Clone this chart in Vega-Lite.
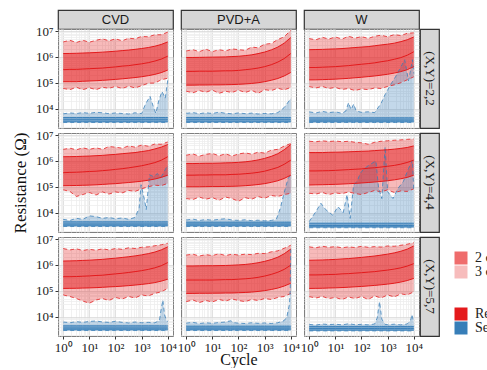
{
"$schema": "https://vega.github.io/schema/vega-lite/v6.json",
"background": "white",
"padding": {"left": 10, "top": 9, "right": 0, "bottom": 0},
"columns": 6,
"spacing": {"row": 0, "column": 1},
"bounds": "flush",
"align": "each",
"datasets": {"d": [
{"p":1,"s":"Reset","x":1,"d":6e4,"a":1.1e5,"m":3.2e5,"b":1.35e6,"e":3.8e6},
{"p":1,"s":"Reset","x":1.8,"d":5.4e4,"a":1.1e5,"m":3.3e5,"b":1.36e6,"e":4.4e6},
{"p":1,"s":"Reset","x":3.2,"d":6.7e4,"a":1.1e5,"m":3.3e5,"b":1.38e6,"e":3.6e6},
{"p":1,"s":"Reset","x":5.6,"d":5.4e4,"a":1.14e5,"m":3.4e5,"b":1.41e6,"e":4.4e6},
{"p":1,"s":"Reset","x":10,"d":6.4e4,"a":1.17e5,"m":3.5e5,"b":1.44e6,"e":3.7e6},
{"p":1,"s":"Reset","x":18,"d":5.4e4,"a":1.2e5,"m":3.6e5,"b":1.48e6,"e":4.4e6},
{"p":1,"s":"Reset","x":32,"d":6.7e4,"a":1.24e5,"m":3.7e5,"b":1.53e6,"e":5e6},
{"p":1,"s":"Reset","x":56,"d":6.1e4,"a":1.29e5,"m":3.9e5,"b":1.59e6,"e":4.2e6},
{"p":1,"s":"Reset","x":100,"d":7.2e4,"a":1.35e5,"m":4.1e5,"b":1.66e6,"e":5e6},
{"p":1,"s":"Reset","x":180,"d":6e4,"a":1.42e5,"m":4.4e5,"b":1.75e6,"e":4.2e6},
{"p":1,"s":"Reset","x":320,"d":7.4e4,"a":1.5e5,"m":4.6e5,"b":1.84e6,"e":5.3e6},
{"p":1,"s":"Reset","x":560,"d":6.3e4,"a":1.59e5,"m":5e5,"b":1.96e6,"e":5e6},
{"p":1,"s":"Reset","x":1000,"d":7.7e4,"a":1.71e5,"m":5.4e5,"b":2.11e6,"e":6.2e6},
{"p":1,"s":"Reset","x":1800,"d":9.6e4,"a":1.88e5,"m":6e5,"b":2.31e6,"e":6e6},
{"p":1,"s":"Reset","x":3200,"d":9.7e4,"a":2.11e5,"m":6.9e5,"b":2.59e6,"e":7.2e6},
{"p":1,"s":"Reset","x":5600,"d":1.3e5,"a":2.46e5,"m":8.2e5,"b":3.03e6,"e":7.2e6},
{"p":1,"s":"Reset","x":10000,"d":1.5e5,"a":3.09e5,"m":1.07e6,"b":3.8e6,"e":9.1e6},
{"p":1,"s":"Set","x":1,"d":2900,"a":3100,"m":3700,"b":4500,"e":6300},
{"p":1,"s":"Set","x":1.8,"d":2900,"a":3100,"m":3700,"b":4500,"e":6800},
{"p":1,"s":"Set","x":3.2,"d":2900,"a":3100,"m":3700,"b":4500,"e":6500},
{"p":1,"s":"Set","x":5.6,"d":2900,"a":3100,"m":3700,"b":4500,"e":7000},
{"p":1,"s":"Set","x":10,"d":2900,"a":3100,"m":3700,"b":4500,"e":6600},
{"p":1,"s":"Set","x":18,"d":2900,"a":3100,"m":3700,"b":4500,"e":7200},
{"p":1,"s":"Set","x":32,"d":2900,"a":3100,"m":3700,"b":4500,"e":6900},
{"p":1,"s":"Set","x":56,"d":2900,"a":3100,"m":3700,"b":4500,"e":6400},
{"p":1,"s":"Set","x":100,"d":2900,"a":3100,"m":3700,"b":4500,"e":6800},
{"p":1,"s":"Set","x":180,"d":2900,"a":3100,"m":3700,"b":4500,"e":6500},
{"p":1,"s":"Set","x":320,"d":2900,"a":3100,"m":3700,"b":4500,"e":6200},
{"p":1,"s":"Set","x":560,"d":2900,"a":3100,"m":3700,"b":4500,"e":6900},
{"p":1,"s":"Set","x":1000,"d":2900,"a":3100,"m":3700,"b":4500,"e":6400},
{"p":1,"s":"Set","x":1400,"d":2900,"a":3100,"m":3700,"b":4500,"e":1.5e4},
{"p":1,"s":"Set","x":2100,"d":2900,"a":3100,"m":3700,"b":4500,"e":3e4},
{"p":1,"s":"Set","x":2800,"d":2900,"a":3100,"m":3700,"b":4500,"e":1.2e4},
{"p":1,"s":"Set","x":3500,"d":2900,"a":3100,"m":3700,"b":4500,"e":6500},
{"p":1,"s":"Set","x":4500,"d":2900,"a":3100,"m":3700,"b":4500,"e":2e4},
{"p":1,"s":"Set","x":6000,"d":2900,"a":3100,"m":3700,"b":4500,"e":4.6e4},
{"p":1,"s":"Set","x":8000,"d":2900,"a":3100,"m":3700,"b":4500,"e":2.5e4},
{"p":1,"s":"Set","x":10000,"d":2900,"a":3100,"m":3700,"b":4500,"e":1.3e5},
{"p":2,"s":"Reset","x":1,"d":4.7e4,"a":8.1e4,"m":2.75e5,"b":9.5e5,"e":1.7e6},
{"p":2,"s":"Reset","x":1.8,"d":4.1e4,"a":8.1e4,"m":2.75e5,"b":9.5e5,"e":1.9e6},
{"p":2,"s":"Reset","x":3.2,"d":5e4,"a":8.2e4,"m":2.8e5,"b":9.6e5,"e":1.6e6},
{"p":2,"s":"Reset","x":5.6,"d":4.3e4,"a":8.2e4,"m":2.8e5,"b":9.7e5,"e":2e6},
{"p":2,"s":"Reset","x":10,"d":5.2e4,"a":8.3e4,"m":2.8e5,"b":9.8e5,"e":1.6e6},
{"p":2,"s":"Reset","x":18,"d":3.9e4,"a":8.3e4,"m":2.85e5,"b":9.9e5,"e":1.9e6},
{"p":2,"s":"Reset","x":32,"d":4.7e4,"a":8.4e4,"m":2.9e5,"b":1e6,"e":1.7e6},
{"p":2,"s":"Reset","x":56,"d":4.2e4,"a":8.5e4,"m":2.9e5,"b":1.03e6,"e":2.05e6},
{"p":2,"s":"Reset","x":100,"d":5.2e4,"a":8.7e4,"m":3e5,"b":1.06e6,"e":1.9e6},
{"p":2,"s":"Reset","x":180,"d":4.2e4,"a":9e4,"m":3.2e5,"b":1.12e6,"e":1.8e6},
{"p":2,"s":"Reset","x":320,"d":5.1e4,"a":9.4e4,"m":3.4e5,"b":1.2e6,"e":2.4e6},
{"p":2,"s":"Reset","x":560,"d":3.9e4,"a":1e5,"m":3.7e5,"b":1.34e6,"e":2.25e6},
{"p":2,"s":"Reset","x":1000,"d":5.4e4,"a":1.1e5,"m":4.2e5,"b":1.54e6,"e":3.1e6},
{"p":2,"s":"Reset","x":1800,"d":5e4,"a":1.25e5,"m":5e5,"b":1.87e6,"e":3.3e6},
{"p":2,"s":"Reset","x":3200,"d":6.1e4,"a":1.46e5,"m":6.3e5,"b":2.4e6,"e":4.7e6},
{"p":2,"s":"Reset","x":5600,"d":5.3e4,"a":1.83e5,"m":8.6e5,"b":3.4e6,"e":6e6},
{"p":2,"s":"Reset","x":10000,"d":6.6e4,"a":2.5e5,"m":1.35e6,"b":5.6e6,"e":1.07e7},
{"p":2,"s":"Set","x":1,"d":2900,"a":3100,"m":3700,"b":4500,"e":6600},
{"p":2,"s":"Set","x":1.8,"d":2900,"a":3100,"m":3700,"b":4500,"e":7000},
{"p":2,"s":"Set","x":3.2,"d":2900,"a":3100,"m":3700,"b":4500,"e":6400},
{"p":2,"s":"Set","x":5.6,"d":2900,"a":3100,"m":3700,"b":4500,"e":6900},
{"p":2,"s":"Set","x":10,"d":2900,"a":3100,"m":3700,"b":4500,"e":6500},
{"p":2,"s":"Set","x":18,"d":2900,"a":3100,"m":3700,"b":4500,"e":7300},
{"p":2,"s":"Set","x":32,"d":2900,"a":3100,"m":3700,"b":4500,"e":6600},
{"p":2,"s":"Set","x":56,"d":2900,"a":3100,"m":3700,"b":4500,"e":6300},
{"p":2,"s":"Set","x":100,"d":2900,"a":3100,"m":3700,"b":4500,"e":6800},
{"p":2,"s":"Set","x":180,"d":2900,"a":3100,"m":3700,"b":4500,"e":6400},
{"p":2,"s":"Set","x":320,"d":2900,"a":3100,"m":3700,"b":4500,"e":6700},
{"p":2,"s":"Set","x":560,"d":2900,"a":3100,"m":3700,"b":4500,"e":6200},
{"p":2,"s":"Set","x":1000,"d":2900,"a":3100,"m":3700,"b":4500,"e":6500},
{"p":2,"s":"Set","x":1800,"d":2900,"a":3100,"m":3700,"b":4500,"e":6300},
{"p":2,"s":"Set","x":3200,"d":2900,"a":3100,"m":3700,"b":4500,"e":7000},
{"p":2,"s":"Set","x":5600,"d":2900,"a":3100,"m":3700,"b":4500,"e":1.1e4},
{"p":2,"s":"Set","x":8000,"d":2900,"a":3100,"m":3700,"b":4500,"e":1.8e4},
{"p":2,"s":"Set","x":10000,"d":2900,"a":3100,"m":3700,"b":4500,"e":2.5e4},
{"p":3,"s":"Reset","x":1,"d":7.1e4,"a":1.29e5,"m":3.9e5,"b":1.9e6,"e":5.1e6},
{"p":3,"s":"Reset","x":1.8,"d":6.3e4,"a":1.3e5,"m":3.9e5,"b":1.93e6,"e":4.6e6},
{"p":3,"s":"Reset","x":3.2,"d":7.2e4,"a":1.32e5,"m":4e5,"b":1.95e6,"e":5.7e6},
{"p":3,"s":"Reset","x":5.6,"d":6e4,"a":1.35e5,"m":4.1e5,"b":2e6,"e":4.9e6},
{"p":3,"s":"Reset","x":10,"d":6.6e4,"a":1.38e5,"m":4.2e5,"b":2.04e6,"e":5.9e6},
{"p":3,"s":"Reset","x":18,"d":5.5e4,"a":1.43e5,"m":4.4e5,"b":2.1e6,"e":4.9e6},
{"p":3,"s":"Reset","x":32,"d":6e4,"a":1.48e5,"m":4.6e5,"b":2.2e6,"e":6.3e6},
{"p":3,"s":"Reset","x":56,"d":5e4,"a":1.56e5,"m":4.9e5,"b":2.3e6,"e":5.3e6},
{"p":3,"s":"Reset","x":100,"d":5.8e4,"a":1.63e5,"m":5.2e5,"b":2.4e6,"e":6.1e6},
{"p":3,"s":"Reset","x":180,"d":5.4e4,"a":1.73e5,"m":5.5e5,"b":2.5e6,"e":5.2e6},
{"p":3,"s":"Reset","x":320,"d":6.3e4,"a":1.83e5,"m":5.9e5,"b":2.7e6,"e":6.3e6},
{"p":3,"s":"Reset","x":560,"d":6e4,"a":1.97e5,"m":6.5e5,"b":2.9e6,"e":6.9e6},
{"p":3,"s":"Reset","x":1000,"d":7.2e4,"a":2.13e5,"m":7.1e5,"b":3.1e6,"e":6e6},
{"p":3,"s":"Reset","x":1800,"d":8.3e4,"a":2.37e5,"m":8.1e5,"b":3.4e6,"e":7.3e6},
{"p":3,"s":"Reset","x":3200,"d":1e5,"a":2.7e5,"m":9.4e5,"b":3.9e6,"e":6.7e6},
{"p":3,"s":"Reset","x":5600,"d":1.3e5,"a":3.2e5,"m":1.16e6,"b":4.6e6,"e":8.2e6},
{"p":3,"s":"Reset","x":10000,"d":1.7e5,"a":4.2e5,"m":1.58e6,"b":5.9e6,"e":8.5e6},
{"p":3,"s":"Set","x":1,"d":2900,"a":3100,"m":3600,"b":4400,"e":7500},
{"p":3,"s":"Set","x":1.8,"d":2900,"a":3100,"m":3600,"b":4400,"e":6800},
{"p":3,"s":"Set","x":3.2,"d":2900,"a":3100,"m":3600,"b":4400,"e":7800},
{"p":3,"s":"Set","x":5.6,"d":2900,"a":3100,"m":3600,"b":4400,"e":7000},
{"p":3,"s":"Set","x":10,"d":2900,"a":3100,"m":3600,"b":4400,"e":7500},
{"p":3,"s":"Set","x":18,"d":2900,"a":3100,"m":3600,"b":4400,"e":6600},
{"p":3,"s":"Set","x":25,"d":2900,"a":3100,"m":3600,"b":4400,"e":8000},
{"p":3,"s":"Set","x":32,"d":2900,"a":3100,"m":3600,"b":4400,"e":1.7e4},
{"p":3,"s":"Set","x":40,"d":2900,"a":3100,"m":3600,"b":4400,"e":9000},
{"p":3,"s":"Set","x":50,"d":2900,"a":3100,"m":3600,"b":4400,"e":1.5e4},
{"p":3,"s":"Set","x":63,"d":2900,"a":3100,"m":3600,"b":4400,"e":8000},
{"p":3,"s":"Set","x":100,"d":2900,"a":3100,"m":3600,"b":4400,"e":7200},
{"p":3,"s":"Set","x":180,"d":2900,"a":3100,"m":3600,"b":4400,"e":7500},
{"p":3,"s":"Set","x":320,"d":2900,"a":3100,"m":3600,"b":4400,"e":7000},
{"p":3,"s":"Set","x":560,"d":2900,"a":3100,"m":3600,"b":4400,"e":1.6e4},
{"p":3,"s":"Set","x":800,"d":2900,"a":3100,"m":3600,"b":4400,"e":3.5e4},
{"p":3,"s":"Set","x":1300,"d":2900,"a":3100,"m":3600,"b":4400,"e":8.5e4},
{"p":3,"s":"Set","x":2000,"d":2900,"a":3100,"m":3600,"b":4400,"e":1.7e5},
{"p":3,"s":"Set","x":2800,"d":2900,"a":3100,"m":3600,"b":4400,"e":3.2e5},
{"p":3,"s":"Set","x":4500,"d":2900,"a":3100,"m":3600,"b":4400,"e":7.8e5},
{"p":3,"s":"Set","x":6300,"d":2900,"a":3100,"m":3600,"b":4400,"e":1.2e5},
{"p":3,"s":"Set","x":8900,"d":2900,"a":3100,"m":3600,"b":4400,"e":7.8e5},
{"p":3,"s":"Set","x":10000,"d":2900,"a":3100,"m":3600,"b":4400,"e":2.3e5},
{"p":4,"s":"Reset","x":1,"d":7.6e4,"a":1.1e5,"m":3.5e5,"b":1.45e6,"e":2.8e6},
{"p":4,"s":"Reset","x":1.8,"d":6.6e4,"a":1.11e5,"m":3.6e5,"b":1.46e6,"e":3.1e6},
{"p":4,"s":"Reset","x":3.2,"d":4.2e4,"a":1.12e5,"m":3.65e5,"b":1.48e6,"e":2.7e6},
{"p":4,"s":"Reset","x":5.6,"d":5e4,"a":1.14e5,"m":3.75e5,"b":1.51e6,"e":3.2e6},
{"p":4,"s":"Reset","x":10,"d":6e4,"a":1.16e5,"m":3.9e5,"b":1.54e6,"e":2.8e6},
{"p":4,"s":"Reset","x":18,"d":4.8e4,"a":1.19e5,"m":4e5,"b":1.59e6,"e":3.2e6},
{"p":4,"s":"Reset","x":32,"d":6.3e4,"a":1.23e5,"m":4.2e5,"b":1.64e6,"e":2.8e6},
{"p":4,"s":"Reset","x":56,"d":5.2e4,"a":1.28e5,"m":4.4e5,"b":1.72e6,"e":3.6e6},
{"p":4,"s":"Reset","x":100,"d":6.3e4,"a":1.32e5,"m":4.7e5,"b":1.79e6,"e":3.4e6},
{"p":4,"s":"Reset","x":180,"d":5.8e4,"a":1.39e5,"m":5e5,"b":1.9e6,"e":3.1e6},
{"p":4,"s":"Reset","x":320,"d":7.2e4,"a":1.46e5,"m":5.4e5,"b":2e6,"e":3.8e6},
{"p":4,"s":"Reset","x":560,"d":6.6e4,"a":1.54e5,"m":5.9e5,"b":2.1e6,"e":3.4e6},
{"p":4,"s":"Reset","x":1000,"d":8.3e4,"a":1.64e5,"m":6.5e5,"b":2.3e6,"e":4.1e6},
{"p":4,"s":"Reset","x":1800,"d":1e5,"a":1.79e5,"m":7.4e5,"b":2.5e6,"e":3.7e6},
{"p":4,"s":"Reset","x":3200,"d":1.15e5,"a":1.99e5,"m":8.6e5,"b":2.9e6,"e":4.5e6},
{"p":4,"s":"Reset","x":5600,"d":1.1e5,"a":2.3e5,"m":1.06e6,"b":3.4e6,"e":4.4e6},
{"p":4,"s":"Reset","x":10000,"d":1.35e5,"a":2.8e5,"m":1.45e6,"b":4.3e6,"e":5.4e6},
{"p":4,"s":"Set","x":1,"d":2900,"a":3100,"m":3600,"b":4400,"e":5500},
{"p":4,"s":"Set","x":1.8,"d":2900,"a":3100,"m":3600,"b":4400,"e":5000},
{"p":4,"s":"Set","x":3.2,"d":2900,"a":3100,"m":3600,"b":4400,"e":6000},
{"p":4,"s":"Set","x":5.6,"d":2900,"a":3100,"m":3600,"b":4400,"e":5500},
{"p":4,"s":"Set","x":10,"d":2900,"a":3100,"m":3600,"b":4400,"e":7500},
{"p":4,"s":"Set","x":18,"d":2900,"a":3100,"m":3600,"b":4400,"e":7000},
{"p":4,"s":"Set","x":32,"d":2900,"a":3100,"m":3600,"b":4400,"e":6000},
{"p":4,"s":"Set","x":56,"d":2900,"a":3100,"m":3600,"b":4400,"e":6500},
{"p":4,"s":"Set","x":100,"d":2900,"a":3100,"m":3600,"b":4400,"e":5800},
{"p":4,"s":"Set","x":180,"d":2900,"a":3100,"m":3600,"b":4400,"e":6200},
{"p":4,"s":"Set","x":320,"d":2900,"a":3100,"m":3600,"b":4400,"e":5500},
{"p":4,"s":"Set","x":560,"d":2900,"a":3100,"m":3600,"b":4400,"e":6500},
{"p":4,"s":"Set","x":800,"d":2900,"a":3100,"m":3600,"b":4400,"e":1.5e4},
{"p":4,"s":"Set","x":950,"d":2900,"a":3100,"m":3600,"b":4400,"e":1.2e5},
{"p":4,"s":"Set","x":1300,"d":2900,"a":3100,"m":3600,"b":4400,"e":3e4},
{"p":4,"s":"Set","x":1500,"d":2900,"a":3100,"m":3600,"b":4400,"e":1.3e4},
{"p":4,"s":"Set","x":2000,"d":2900,"a":3100,"m":3600,"b":4400,"e":2.9e5},
{"p":4,"s":"Set","x":2800,"d":2900,"a":3100,"m":3600,"b":4400,"e":2.5e5},
{"p":4,"s":"Set","x":4000,"d":2900,"a":3100,"m":3600,"b":4400,"e":3.2e5},
{"p":4,"s":"Set","x":5600,"d":2900,"a":3100,"m":3600,"b":4400,"e":2.4e5},
{"p":4,"s":"Set","x":7900,"d":2900,"a":3100,"m":3600,"b":4400,"e":4.5e5},
{"p":4,"s":"Set","x":10000,"d":2900,"a":3100,"m":3600,"b":4400,"e":7e5},
{"p":5,"s":"Reset","x":1,"d":3.5e4,"a":1e5,"m":2.8e5,"b":7.9e5,"e":1.66e6},
{"p":5,"s":"Reset","x":1.8,"d":3.2e4,"a":1e5,"m":2.8e5,"b":7.9e5,"e":1.86e6},
{"p":5,"s":"Reset","x":3.2,"d":4e4,"a":1e5,"m":2.85e5,"b":8e5,"e":1.52e6},
{"p":5,"s":"Reset","x":5.6,"d":3.3e4,"a":1.01e5,"m":2.85e5,"b":8.1e5,"e":1.8e6},
{"p":5,"s":"Reset","x":10,"d":3.8e4,"a":1.02e5,"m":2.9e5,"b":8.1e5,"e":1.94e6},
{"p":5,"s":"Reset","x":18,"d":3e4,"a":1.02e5,"m":2.9e5,"b":8.2e5,"e":1.58e6},
{"p":5,"s":"Reset","x":32,"d":4e4,"a":1.03e5,"m":2.9e5,"b":8.4e5,"e":1.88e6},
{"p":5,"s":"Reset","x":56,"d":3.5e4,"a":1.04e5,"m":3e5,"b":8.5e5,"e":1.54e6},
{"p":5,"s":"Reset","x":100,"d":2.75e4,"a":1.06e5,"m":3.05e5,"b":8.8e5,"e":1.85e6},
{"p":5,"s":"Reset","x":180,"d":3.8e4,"a":1.1e5,"m":3.2e5,"b":9.2e5,"e":2.05e6},
{"p":5,"s":"Reset","x":320,"d":3.3e4,"a":1.15e5,"m":3.35e5,"b":9.9e5,"e":1.82e6},
{"p":5,"s":"Reset","x":560,"d":4.2e4,"a":1.22e5,"m":3.6e5,"b":1.09e6,"e":2.17e6},
{"p":5,"s":"Reset","x":1000,"d":3.6e4,"a":1.32e5,"m":4e5,"b":1.25e6,"e":2e6},
{"p":5,"s":"Reset","x":1800,"d":4.6e4,"a":1.48e5,"m":4.7e5,"b":1.5e6,"e":2.6e6},
{"p":5,"s":"Reset","x":3200,"d":4.2e4,"a":1.71e5,"m":5.6e5,"b":1.9e6,"e":2.8e6},
{"p":5,"s":"Reset","x":5600,"d":5e4,"a":2.1e5,"m":7.4e5,"b":2.7e6,"e":3.75e6},
{"p":5,"s":"Reset","x":10000,"d":5.6e4,"a":2.8e5,"m":1.07e6,"b":4.3e6,"e":4.7e6},
{"p":5,"s":"Set","x":1,"d":2900,"a":3100,"m":3600,"b":4300,"e":5200},
{"p":5,"s":"Set","x":1.8,"d":2900,"a":3100,"m":3600,"b":4300,"e":5600},
{"p":5,"s":"Set","x":3.2,"d":2900,"a":3100,"m":3600,"b":4300,"e":5000},
{"p":5,"s":"Set","x":5.6,"d":2900,"a":3100,"m":3600,"b":4300,"e":5400},
{"p":5,"s":"Set","x":10,"d":2900,"a":3100,"m":3600,"b":4300,"e":5100},
{"p":5,"s":"Set","x":18,"d":2900,"a":3100,"m":3600,"b":4300,"e":5500},
{"p":5,"s":"Set","x":32,"d":2900,"a":3100,"m":3600,"b":4300,"e":5800},
{"p":5,"s":"Set","x":56,"d":2900,"a":3100,"m":3600,"b":4300,"e":5200},
{"p":5,"s":"Set","x":100,"d":2900,"a":3100,"m":3600,"b":4300,"e":5000},
{"p":5,"s":"Set","x":180,"d":2900,"a":3100,"m":3600,"b":4300,"e":5300},
{"p":5,"s":"Set","x":320,"d":2900,"a":3100,"m":3600,"b":4300,"e":4900},
{"p":5,"s":"Set","x":560,"d":2900,"a":3100,"m":3600,"b":4300,"e":5100},
{"p":5,"s":"Set","x":1000,"d":2900,"a":3100,"m":3600,"b":4300,"e":4800},
{"p":5,"s":"Set","x":1800,"d":2900,"a":3100,"m":3600,"b":4300,"e":5000},
{"p":5,"s":"Set","x":2800,"d":2900,"a":3100,"m":3600,"b":4300,"e":5500},
{"p":5,"s":"Set","x":4000,"d":2900,"a":3100,"m":3600,"b":4300,"e":1.5e4},
{"p":5,"s":"Set","x":5600,"d":2900,"a":3100,"m":3600,"b":4300,"e":6e4},
{"p":5,"s":"Set","x":7900,"d":2900,"a":3100,"m":3600,"b":4300,"e":2.1e5},
{"p":5,"s":"Set","x":10000,"d":2900,"a":3100,"m":3600,"b":4300,"e":2.9e5},
{"p":6,"s":"Reset","x":1,"d":5.6e4,"a":1.17e5,"m":4.1e5,"b":2.1e6,"e":5.75e6},
{"p":6,"s":"Reset","x":1.8,"d":5.25e4,"a":1.19e5,"m":4.1e5,"b":2.1e6,"e":5.5e6},
{"p":6,"s":"Reset","x":3.2,"d":6e4,"a":1.2e5,"m":4.15e5,"b":2.1e6,"e":6e6},
{"p":6,"s":"Reset","x":5.6,"d":5e4,"a":1.22e5,"m":4.2e5,"b":2.15e6,"e":5.6e6},
{"p":6,"s":"Reset","x":10,"d":5.75e4,"a":1.24e5,"m":4.3e5,"b":2.17e6,"e":5.9e6},
{"p":6,"s":"Reset","x":18,"d":5.4e4,"a":1.27e5,"m":4.45e5,"b":2.2e6,"e":5.5e6},
{"p":6,"s":"Reset","x":32,"d":6.3e4,"a":1.31e5,"m":4.6e5,"b":2.25e6,"e":5.75e6},
{"p":6,"s":"Reset","x":56,"d":5.5e4,"a":1.35e5,"m":4.75e5,"b":2.3e6,"e":5.25e6},
{"p":6,"s":"Reset","x":100,"d":5e4,"a":1.4e5,"m":4.9e5,"b":2.35e6,"e":5e6},
{"p":6,"s":"Reset","x":180,"d":6e4,"a":1.46e5,"m":5.2e5,"b":2.4e6,"e":4.4e6},
{"p":6,"s":"Reset","x":320,"d":7.2e4,"a":1.53e5,"m":5.45e5,"b":2.5e6,"e":5.25e6},
{"p":6,"s":"Reset","x":560,"d":6.3e4,"a":1.61e5,"m":5.8e5,"b":2.6e6,"e":5.75e6},
{"p":6,"s":"Reset","x":1000,"d":7.6e4,"a":1.71e5,"m":6.2e5,"b":2.7e6,"e":6e6},
{"p":6,"s":"Reset","x":1800,"d":6e4,"a":1.85e5,"m":6.7e5,"b":2.85e6,"e":6.3e6},
{"p":6,"s":"Reset","x":3200,"d":6.9e4,"a":2.04e5,"m":7.5e5,"b":3.05e6,"e":6.5e6},
{"p":6,"s":"Reset","x":5600,"d":6.6e4,"a":2.3e5,"m":8.7e5,"b":3.3e6,"e":6.8e6},
{"p":6,"s":"Reset","x":10000,"d":8.3e4,"a":2.8e5,"m":1.07e6,"b":3.8e6,"e":7.1e6},
{"p":6,"s":"Set","x":1,"d":2600,"a":2800,"m":3200,"b":3900,"e":4500},
{"p":6,"s":"Set","x":1.8,"d":2600,"a":2800,"m":3200,"b":3900,"e":1.1e4},
{"p":6,"s":"Set","x":2.8,"d":2600,"a":2800,"m":3200,"b":3900,"e":2.3e4},
{"p":6,"s":"Set","x":4.3,"d":2600,"a":2800,"m":3200,"b":3900,"e":1.3e4},
{"p":6,"s":"Set","x":7.9,"d":2600,"a":2800,"m":3200,"b":3900,"e":8000},
{"p":6,"s":"Set","x":12.6,"d":2600,"a":2800,"m":3200,"b":3900,"e":1.7e4},
{"p":6,"s":"Set","x":20,"d":2600,"a":2800,"m":3200,"b":3900,"e":1e4},
{"p":6,"s":"Set","x":28,"d":2600,"a":2800,"m":3200,"b":3900,"e":5e4},
{"p":6,"s":"Set","x":37,"d":2600,"a":2800,"m":3200,"b":3900,"e":6000},
{"p":6,"s":"Set","x":50,"d":2600,"a":2800,"m":3200,"b":3900,"e":1.2e5},
{"p":6,"s":"Set","x":68,"d":2600,"a":2800,"m":3200,"b":3900,"e":1.6e5},
{"p":6,"s":"Set","x":89,"d":2600,"a":2800,"m":3200,"b":3900,"e":3.3e5},
{"p":6,"s":"Set","x":126,"d":2600,"a":2800,"m":3200,"b":3900,"e":5e5},
{"p":6,"s":"Set","x":200,"d":2600,"a":2800,"m":3200,"b":3900,"e":7e5},
{"p":6,"s":"Set","x":355,"d":2600,"a":2800,"m":3200,"b":3900,"e":1e6},
{"p":6,"s":"Set","x":450,"d":2600,"a":2800,"m":3200,"b":3900,"e":9e4},
{"p":6,"s":"Set","x":600,"d":2600,"a":2800,"m":3200,"b":3900,"e":3.5e4},
{"p":6,"s":"Set","x":800,"d":2600,"a":2800,"m":3200,"b":3900,"e":3.5e6},
{"p":6,"s":"Set","x":1000,"d":2600,"a":2800,"m":3200,"b":3900,"e":6.5e4},
{"p":6,"s":"Set","x":1600,"d":2600,"a":2800,"m":3200,"b":3900,"e":3.5e4},
{"p":6,"s":"Set","x":2500,"d":2600,"a":2800,"m":3200,"b":3900,"e":8.7e4},
{"p":6,"s":"Set","x":4000,"d":2600,"a":2800,"m":3200,"b":3900,"e":1.6e5},
{"p":6,"s":"Set","x":6300,"d":2600,"a":2800,"m":3200,"b":3900,"e":5.1e5},
{"p":6,"s":"Set","x":8900,"d":2600,"a":2800,"m":3200,"b":3900,"e":1.07e6},
{"p":6,"s":"Set","x":10000,"d":2600,"a":2800,"m":3200,"b":3900,"e":6.5e4},
{"p":7,"s":"Reset","x":1,"d":6.9e4,"a":1.23e5,"m":3.5e5,"b":1.41e6,"e":4.3e6},
{"p":7,"s":"Reset","x":1.8,"d":6e4,"a":1.24e5,"m":3.5e5,"b":1.43e6,"e":3.8e6},
{"p":7,"s":"Reset","x":3.2,"d":5e4,"a":1.25e5,"m":3.55e5,"b":1.45e6,"e":4.2e6},
{"p":7,"s":"Reset","x":5.6,"d":4e4,"a":1.27e5,"m":3.65e5,"b":1.49e6,"e":3.6e6},
{"p":7,"s":"Reset","x":10,"d":3.3e4,"a":1.29e5,"m":3.75e5,"b":1.52e6,"e":4e6},
{"p":7,"s":"Reset","x":18,"d":4.4e4,"a":1.32e5,"m":3.9e5,"b":1.58e6,"e":3.7e6},
{"p":7,"s":"Reset","x":32,"d":5e4,"a":1.36e5,"m":4e5,"b":1.64e6,"e":4.2e6},
{"p":7,"s":"Reset","x":56,"d":4.2e4,"a":1.41e5,"m":4.25e5,"b":1.73e6,"e":3.8e6},
{"p":7,"s":"Reset","x":100,"d":5.5e4,"a":1.45e5,"m":4.5e5,"b":1.82e6,"e":4.3e6},
{"p":7,"s":"Reset","x":180,"d":4.8e4,"a":1.51e5,"m":4.75e5,"b":1.94e6,"e":4e6},
{"p":7,"s":"Reset","x":320,"d":6e4,"a":1.58e5,"m":5.1e5,"b":2.07e6,"e":4.6e6},
{"p":7,"s":"Reset","x":560,"d":5.25e4,"a":1.66e5,"m":5.5e5,"b":2.23e6,"e":4.3e6},
{"p":7,"s":"Reset","x":1000,"d":6.9e4,"a":1.76e5,"m":6e5,"b":2.44e6,"e":4.8e6},
{"p":7,"s":"Reset","x":1800,"d":6.3e4,"a":1.89e5,"m":6.7e5,"b":2.73e6,"e":5e6},
{"p":7,"s":"Reset","x":3200,"d":7.9e4,"a":2.07e5,"m":7.7e5,"b":3.14e6,"e":5.5e6},
{"p":7,"s":"Reset","x":5600,"d":9.1e4,"a":2.35e5,"m":9.3e5,"b":3.8e6,"e":6e6},
{"p":7,"s":"Reset","x":10000,"d":1.23e5,"a":2.8e5,"m":1.23e6,"b":5e6,"e":6.9e6},
{"p":7,"s":"Set","x":1,"d":2900,"a":3100,"m":3600,"b":4400,"e":6200},
{"p":7,"s":"Set","x":1.8,"d":2900,"a":3100,"m":3600,"b":4400,"e":5800},
{"p":7,"s":"Set","x":3.2,"d":2900,"a":3100,"m":3600,"b":4400,"e":6400},
{"p":7,"s":"Set","x":5.6,"d":2900,"a":3100,"m":3600,"b":4400,"e":6000},
{"p":7,"s":"Set","x":10,"d":2900,"a":3100,"m":3600,"b":4400,"e":6500},
{"p":7,"s":"Set","x":18,"d":2900,"a":3100,"m":3600,"b":4400,"e":6800},
{"p":7,"s":"Set","x":32,"d":2900,"a":3100,"m":3600,"b":4400,"e":6200},
{"p":7,"s":"Set","x":56,"d":2900,"a":3100,"m":3600,"b":4400,"e":6000},
{"p":7,"s":"Set","x":100,"d":2900,"a":3100,"m":3600,"b":4400,"e":6600},
{"p":7,"s":"Set","x":180,"d":2900,"a":3100,"m":3600,"b":4400,"e":6000},
{"p":7,"s":"Set","x":320,"d":2900,"a":3100,"m":3600,"b":4400,"e":5700},
{"p":7,"s":"Set","x":560,"d":2900,"a":3100,"m":3600,"b":4400,"e":6200},
{"p":7,"s":"Set","x":1000,"d":2900,"a":3100,"m":3600,"b":4400,"e":5800},
{"p":7,"s":"Set","x":1800,"d":2900,"a":3100,"m":3600,"b":4400,"e":6000},
{"p":7,"s":"Set","x":3200,"d":2900,"a":3100,"m":3600,"b":4400,"e":5800},
{"p":7,"s":"Set","x":4800,"d":2900,"a":3100,"m":3600,"b":4400,"e":7000},
{"p":7,"s":"Set","x":5600,"d":2900,"a":3100,"m":3600,"b":4400,"e":2e4},
{"p":7,"s":"Set","x":6500,"d":2900,"a":3100,"m":3600,"b":4400,"e":4.4e4},
{"p":7,"s":"Set","x":7500,"d":2900,"a":3100,"m":3600,"b":4400,"e":1.2e4},
{"p":7,"s":"Set","x":8900,"d":2900,"a":3100,"m":3600,"b":4400,"e":7000},
{"p":7,"s":"Set","x":10000,"d":2900,"a":3100,"m":3600,"b":4400,"e":6500},
{"p":8,"s":"Reset","x":1,"d":3.8e4,"a":7.9e4,"m":2.6e5,"b":9.1e5,"e":2.4e6},
{"p":8,"s":"Reset","x":1.8,"d":4.4e4,"a":7.9e4,"m":2.6e5,"b":9.1e5,"e":2.6e6},
{"p":8,"s":"Reset","x":3.2,"d":3.5e4,"a":8e4,"m":2.6e5,"b":9.2e5,"e":2.2e6},
{"p":8,"s":"Reset","x":5.6,"d":4.2e4,"a":8e4,"m":2.6e5,"b":9.3e5,"e":2.5e6},
{"p":8,"s":"Reset","x":10,"d":3.7e4,"a":8.05e4,"m":2.6e5,"b":9.3e5,"e":2.3e6},
{"p":8,"s":"Reset","x":18,"d":4.6e4,"a":8.1e4,"m":2.65e5,"b":9.4e5,"e":2.7e6},
{"p":8,"s":"Reset","x":32,"d":4e4,"a":8.2e4,"m":2.7e5,"b":9.5e5,"e":2.3e6},
{"p":8,"s":"Reset","x":56,"d":4.8e4,"a":8.2e4,"m":2.7e5,"b":9.7e5,"e":2.6e6},
{"p":8,"s":"Reset","x":100,"d":4.2e4,"a":8.4e4,"m":2.8e5,"b":1e6,"e":2.4e6},
{"p":8,"s":"Reset","x":180,"d":3.8e4,"a":8.6e4,"m":2.9e5,"b":1.04e6,"e":2.6e6},
{"p":8,"s":"Reset","x":320,"d":4.6e4,"a":8.9e4,"m":3.05e5,"b":1.11e6,"e":2.5e6},
{"p":8,"s":"Reset","x":560,"d":4.2e4,"a":9.4e4,"m":3.3e5,"b":1.21e6,"e":2.8e6},
{"p":8,"s":"Reset","x":1000,"d":5e4,"a":1.01e5,"m":3.7e5,"b":1.37e6,"e":2.75e6},
{"p":8,"s":"Reset","x":1800,"d":4.6e4,"a":1.12e5,"m":4.3e5,"b":1.61e6,"e":3.2e6},
{"p":8,"s":"Reset","x":3200,"d":5.5e4,"a":1.27e5,"m":5.2e5,"b":1.99e6,"e":3.5e6},
{"p":8,"s":"Reset","x":5600,"d":6e4,"a":1.52e5,"m":6.7e5,"b":2.7e6,"e":4.4e6},
{"p":8,"s":"Reset","x":10000,"d":7.9e4,"a":1.95e5,"m":9.8e5,"b":4.1e6,"e":5.75e6},
{"p":8,"s":"Set","x":1,"d":2900,"a":3100,"m":3600,"b":4300,"e":5600},
{"p":8,"s":"Set","x":1.8,"d":2900,"a":3100,"m":3600,"b":4300,"e":6000},
{"p":8,"s":"Set","x":3.2,"d":2900,"a":3100,"m":3600,"b":4300,"e":5400},
{"p":8,"s":"Set","x":5.6,"d":2900,"a":3100,"m":3600,"b":4300,"e":5800},
{"p":8,"s":"Set","x":10,"d":2900,"a":3100,"m":3600,"b":4300,"e":5500},
{"p":8,"s":"Set","x":18,"d":2900,"a":3100,"m":3600,"b":4300,"e":5900},
{"p":8,"s":"Set","x":32,"d":2900,"a":3100,"m":3600,"b":4300,"e":6200},
{"p":8,"s":"Set","x":50,"d":2900,"a":3100,"m":3600,"b":4300,"e":6900},
{"p":8,"s":"Set","x":70,"d":2900,"a":3100,"m":3600,"b":4300,"e":5800},
{"p":8,"s":"Set","x":100,"d":2900,"a":3100,"m":3600,"b":4300,"e":5600},
{"p":8,"s":"Set","x":180,"d":2900,"a":3100,"m":3600,"b":4300,"e":5400},
{"p":8,"s":"Set","x":320,"d":2900,"a":3100,"m":3600,"b":4300,"e":5800},
{"p":8,"s":"Set","x":560,"d":2900,"a":3100,"m":3600,"b":4300,"e":5500},
{"p":8,"s":"Set","x":1000,"d":2900,"a":3100,"m":3600,"b":4300,"e":5700},
{"p":8,"s":"Set","x":1800,"d":2900,"a":3100,"m":3600,"b":4300,"e":5400},
{"p":8,"s":"Set","x":3200,"d":2900,"a":3100,"m":3600,"b":4300,"e":5800},
{"p":8,"s":"Set","x":5600,"d":2900,"a":3100,"m":3600,"b":4300,"e":7000},
{"p":8,"s":"Set","x":7100,"d":2900,"a":3100,"m":3600,"b":4300,"e":1e4},
{"p":8,"s":"Set","x":8900,"d":2900,"a":3100,"m":3600,"b":4300,"e":3e4},
{"p":8,"s":"Set","x":9500,"d":2900,"a":3100,"m":3600,"b":4300,"e":1e5},
{"p":8,"s":"Set","x":10000,"d":2900,"a":3100,"m":3600,"b":4300,"e":5e6},
{"p":9,"s":"Reset","x":1,"d":5.9e4,"a":1.23e5,"m":4.1e5,"b":1.51e6,"e":5e6},
{"p":9,"s":"Reset","x":1.8,"d":5.25e4,"a":1.24e5,"m":4.1e5,"b":1.53e6,"e":4.6e6},
{"p":9,"s":"Reset","x":3.2,"d":6e4,"a":1.25e5,"m":4.15e5,"b":1.55e6,"e":5.25e6},
{"p":9,"s":"Reset","x":5.6,"d":5e4,"a":1.28e5,"m":4.25e5,"b":1.59e6,"e":4.8e6},
{"p":9,"s":"Reset","x":10,"d":5.5e4,"a":1.3e5,"m":4.3e5,"b":1.63e6,"e":5.1e6},
{"p":9,"s":"Reset","x":18,"d":4.6e4,"a":1.33e5,"m":4.5e5,"b":1.7e6,"e":4.6e6},
{"p":9,"s":"Reset","x":32,"d":5.75e4,"a":1.37e5,"m":4.6e5,"b":1.76e6,"e":5e6},
{"p":9,"s":"Reset","x":56,"d":5e4,"a":1.42e5,"m":4.8e5,"b":1.85e6,"e":4.7e6},
{"p":9,"s":"Reset","x":100,"d":6e4,"a":1.47e5,"m":5e5,"b":1.95e6,"e":5.25e6},
{"p":9,"s":"Reset","x":180,"d":4.6e4,"a":1.54e5,"m":5.25e5,"b":2.08e6,"e":4.8e6},
{"p":9,"s":"Reset","x":320,"d":6.3e4,"a":1.61e5,"m":5.5e5,"b":2.21e6,"e":5.1e6},
{"p":9,"s":"Reset","x":560,"d":5.25e4,"a":1.7e5,"m":5.9e5,"b":2.39e6,"e":4.9e6},
{"p":9,"s":"Reset","x":1000,"d":6.9e4,"a":1.81e5,"m":6.3e5,"b":2.61e6,"e":5.4e6},
{"p":9,"s":"Reset","x":1800,"d":5.75e4,"a":1.96e5,"m":6.9e5,"b":2.92e6,"e":5.25e6},
{"p":9,"s":"Reset","x":3200,"d":7.6e4,"a":2.17e5,"m":7.7e5,"b":3.37e6,"e":5.75e6},
{"p":9,"s":"Reset","x":5600,"d":6.9e4,"a":2.48e5,"m":9e5,"b":4.06e6,"e":6.3e6},
{"p":9,"s":"Reset","x":10000,"d":9.1e4,"a":3e5,"m":1.12e6,"b":5.4e6,"e":7.2e6},
{"p":9,"s":"Set","x":1,"d":2800,"a":3000,"m":3500,"b":4200,"e":5000},
{"p":9,"s":"Set","x":1.8,"d":2800,"a":3000,"m":3500,"b":4200,"e":4700},
{"p":9,"s":"Set","x":3.2,"d":2800,"a":3000,"m":3500,"b":4200,"e":5200},
{"p":9,"s":"Set","x":5.6,"d":2800,"a":3000,"m":3500,"b":4200,"e":4900},
{"p":9,"s":"Set","x":10,"d":2800,"a":3000,"m":3500,"b":4200,"e":5100},
{"p":9,"s":"Set","x":18,"d":2800,"a":3000,"m":3500,"b":4200,"e":4800},
{"p":9,"s":"Set","x":32,"d":2800,"a":3000,"m":3500,"b":4200,"e":5300},
{"p":9,"s":"Set","x":56,"d":2800,"a":3000,"m":3500,"b":4200,"e":4900},
{"p":9,"s":"Set","x":100,"d":2800,"a":3000,"m":3500,"b":4200,"e":5000},
{"p":9,"s":"Set","x":180,"d":2800,"a":3000,"m":3500,"b":4200,"e":4800},
{"p":9,"s":"Set","x":320,"d":2800,"a":3000,"m":3500,"b":4200,"e":5200},
{"p":9,"s":"Set","x":400,"d":2800,"a":3000,"m":3500,"b":4200,"e":9000},
{"p":9,"s":"Set","x":490,"d":2800,"a":3000,"m":3500,"b":4200,"e":3.8e4},
{"p":9,"s":"Set","x":600,"d":2800,"a":3000,"m":3500,"b":4200,"e":8000},
{"p":9,"s":"Set","x":800,"d":2800,"a":3000,"m":3500,"b":4200,"e":5000},
{"p":9,"s":"Set","x":1000,"d":2800,"a":3000,"m":3500,"b":4200,"e":4900},
{"p":9,"s":"Set","x":1800,"d":2800,"a":3000,"m":3500,"b":4200,"e":5100},
{"p":9,"s":"Set","x":3200,"d":2800,"a":3000,"m":3500,"b":4200,"e":4800},
{"p":9,"s":"Set","x":5600,"d":2800,"a":3000,"m":3500,"b":4200,"e":5200},
{"p":9,"s":"Set","x":7500,"d":2800,"a":3000,"m":3500,"b":4200,"e":7000},
{"p":9,"s":"Set","x":8500,"d":2800,"a":3000,"m":3500,"b":4200,"e":1.2e4},
{"p":9,"s":"Set","x":10000,"d":2800,"a":3000,"m":3500,"b":4200,"e":6000}
]},
"concat": [
{"width":115,"height":19,"data":{"values":[{"t":"CVD"}]},"mark":{"type":"text","font":"Liberation Sans","fontSize":13,"color":"#1a1a1a"},"encoding":{"text":{"field":"t","type":"nominal"}},"view":{"fill":"#d6d6d6","stroke":"#333","strokeWidth":1.2}},
{"width":6,"height":5,"data":{"values":[]},"mark":"point","view":{"stroke":null}},
{"width":115,"height":19,"data":{"values":[{"t":"PVD+A"}]},"mark":{"type":"text","font":"Liberation Sans","fontSize":13,"color":"#1a1a1a"},"encoding":{"text":{"field":"t","type":"nominal"}},"view":{"fill":"#d6d6d6","stroke":"#333","strokeWidth":1.2}},
{"width":6,"height":5,"data":{"values":[]},"mark":"point","view":{"stroke":null}},
{"width":115,"height":19,"data":{"values":[{"t":"W"}]},"mark":{"type":"text","font":"Liberation Sans","fontSize":13,"color":"#1a1a1a"},"encoding":{"text":{"field":"t","type":"nominal"}},"view":{"fill":"#d6d6d6","stroke":"#333","strokeWidth":1.2}},
{"width":6,"height":5,"data":{"values":[]},"mark":"point","view":{"stroke":null}},

{"width":115,"height":99,"data":{"name":"d"},"transform":[{"filter":"datum.p==1"}],
"encoding":{"x":{"field":"x","type":"quantitative","scale":{"type":"log","domain":[0.631,15849],"nice":false},"title":null},"color":{"field":"s","type":"nominal","scale":{"domain":["Reset","Set"],"range":["#e41a1c","#377eb8"]},"legend":null}},
"layer":[
{"mark":{"type":"area","fillOpacity":0.3},"encoding":{"y":{"field":"d","type":"quantitative","scale":{"type":"log","domain":[1780,1.2e7],"nice":false},"title":null,"axis":{"labels":true,"ticks":true}},"y2":{"field":"e"}}},
{"mark":{"type":"area","fillOpacity":0.5},"encoding":{"y":{"field":"a","type":"quantitative","scale":{"type":"log","domain":[1780,1.2e7],"nice":false},"title":null,"axis":{"labels":true,"ticks":true}},"y2":{"field":"b"}}},
{"transform":[{"fold":["d","e"],"as":["k","v"]}],"mark":{"type":"line","strokeWidth":0.9,"strokeDash":[4,3],"strokeOpacity":0.85},"encoding":{"y":{"field":"v","type":"quantitative","scale":{"type":"log","domain":[1780,1.2e7],"nice":false},"title":null,"axis":{"labels":true,"ticks":true}},"detail":{"field":"k"}}},
{"transform":[{"fold":["a","b","m"],"as":["k","v"]}],"mark":{"type":"line","strokeWidth":1},"encoding":{"y":{"field":"v","type":"quantitative","scale":{"type":"log","domain":[1780,1.2e7],"nice":false},"title":null,"axis":{"labels":true,"ticks":true}},"detail":{"field":"k"}}},
{"data":{"values":[]},"mark":{"type":"square","opacity":1},"encoding":{"fill":{"field":"k","type":"nominal","scale":{"domain":["2 σ","3 σ"," ","  ","Reset","Set"],"range":["#ef6c6c","#f7bcbc","#ffffff","#ffffff","#e41a1c","#377eb8"]},"legend":{"orient":"none","legendX":396,"legendY":241,"title":null}}}}
]},
{"width":6,"height":5,"data":{"values":[]},"mark":"point","view":{"stroke":null}},
{"width":115,"height":99,"data":{"name":"d"},"transform":[{"filter":"datum.p==2"}],
"encoding":{"x":{"field":"x","type":"quantitative","scale":{"type":"log","domain":[0.631,15849],"nice":false},"title":null},"color":{"field":"s","type":"nominal","scale":{"domain":["Reset","Set"],"range":["#e41a1c","#377eb8"]},"legend":null}},
"layer":[
{"mark":{"type":"area","fillOpacity":0.3},"encoding":{"y":{"field":"d","type":"quantitative","scale":{"type":"log","domain":[1780,1.2e7],"nice":false},"title":null},"y2":{"field":"e"}}},
{"mark":{"type":"area","fillOpacity":0.5},"encoding":{"y":{"field":"a","type":"quantitative","scale":{"type":"log","domain":[1780,1.2e7],"nice":false},"title":null},"y2":{"field":"b"}}},
{"transform":[{"fold":["d","e"],"as":["k","v"]}],"mark":{"type":"line","strokeWidth":0.9,"strokeDash":[4,3],"strokeOpacity":0.85},"encoding":{"y":{"field":"v","type":"quantitative","scale":{"type":"log","domain":[1780,1.2e7],"nice":false},"title":null},"detail":{"field":"k"}}},
{"transform":[{"fold":["a","b","m"],"as":["k","v"]}],"mark":{"type":"line","strokeWidth":1},"encoding":{"y":{"field":"v","type":"quantitative","scale":{"type":"log","domain":[1780,1.2e7],"nice":false},"title":null},"detail":{"field":"k"}}}
]},
{"width":6,"height":5,"data":{"values":[]},"mark":"point","view":{"stroke":null}},
{"width":115,"height":99,"data":{"name":"d"},"transform":[{"filter":"datum.p==3"}],
"encoding":{"x":{"field":"x","type":"quantitative","scale":{"type":"log","domain":[0.631,15849],"nice":false},"title":null},"color":{"field":"s","type":"nominal","scale":{"domain":["Reset","Set"],"range":["#e41a1c","#377eb8"]},"legend":null}},
"layer":[
{"mark":{"type":"area","fillOpacity":0.3},"encoding":{"y":{"field":"d","type":"quantitative","scale":{"type":"log","domain":[1780,1.2e7],"nice":false},"title":null},"y2":{"field":"e"}}},
{"mark":{"type":"area","fillOpacity":0.5},"encoding":{"y":{"field":"a","type":"quantitative","scale":{"type":"log","domain":[1780,1.2e7],"nice":false},"title":null},"y2":{"field":"b"}}},
{"transform":[{"fold":["d","e"],"as":["k","v"]}],"mark":{"type":"line","strokeWidth":0.9,"strokeDash":[4,3],"strokeOpacity":0.85},"encoding":{"y":{"field":"v","type":"quantitative","scale":{"type":"log","domain":[1780,1.2e7],"nice":false},"title":null},"detail":{"field":"k"}}},
{"transform":[{"fold":["a","b","m"],"as":["k","v"]}],"mark":{"type":"line","strokeWidth":1},"encoding":{"y":{"field":"v","type":"quantitative","scale":{"type":"log","domain":[1780,1.2e7],"nice":false},"title":null},"detail":{"field":"k"}}}
]},
{"width":19,"height":99,"data":{"values":[{"t":"(X,Y)=2,2"}]},"mark":{"type":"text","angle":90,"font":"Liberation Serif","fontSize":13,"color":"#1a1a1a"},"encoding":{"text":{"field":"t","type":"nominal"}},"view":{"fill":"#d6d6d6","stroke":"#333","strokeWidth":1.2}},

{"width":6,"height":5,"data":{"values":[]},"mark":"point","view":{"stroke":null}},
{"width":6,"height":5,"data":{"values":[]},"mark":"point","view":{"stroke":null}},
{"width":6,"height":5,"data":{"values":[]},"mark":"point","view":{"stroke":null}},
{"width":6,"height":5,"data":{"values":[]},"mark":"point","view":{"stroke":null}},
{"width":6,"height":5,"data":{"values":[]},"mark":"point","view":{"stroke":null}},
{"width":6,"height":5,"data":{"values":[]},"mark":"point","view":{"stroke":null}},

{"width":115,"height":99,"data":{"name":"d"},"transform":[{"filter":"datum.p==4"}],
"encoding":{"x":{"field":"x","type":"quantitative","scale":{"type":"log","domain":[0.631,15849],"nice":false},"title":null},"color":{"field":"s","type":"nominal","scale":{"domain":["Reset","Set"],"range":["#e41a1c","#377eb8"]},"legend":null}},
"layer":[
{"mark":{"type":"area","fillOpacity":0.3},"encoding":{"y":{"field":"d","type":"quantitative","scale":{"type":"log","domain":[1780,1.2e7],"nice":false},"title":"Resistance (Ω)","axis":{"labels":true,"ticks":true}},"y2":{"field":"e"}}},
{"mark":{"type":"area","fillOpacity":0.5},"encoding":{"y":{"field":"a","type":"quantitative","scale":{"type":"log","domain":[1780,1.2e7],"nice":false},"title":"Resistance (Ω)","axis":{"labels":true,"ticks":true}},"y2":{"field":"b"}}},
{"transform":[{"fold":["d","e"],"as":["k","v"]}],"mark":{"type":"line","strokeWidth":0.9,"strokeDash":[4,3],"strokeOpacity":0.85},"encoding":{"y":{"field":"v","type":"quantitative","scale":{"type":"log","domain":[1780,1.2e7],"nice":false},"title":"Resistance (Ω)","axis":{"labels":true,"ticks":true}},"detail":{"field":"k"}}},
{"transform":[{"fold":["a","b","m"],"as":["k","v"]}],"mark":{"type":"line","strokeWidth":1},"encoding":{"y":{"field":"v","type":"quantitative","scale":{"type":"log","domain":[1780,1.2e7],"nice":false},"title":"Resistance (Ω)","axis":{"labels":true,"ticks":true}},"detail":{"field":"k"}}}
]},
{"width":6,"height":5,"data":{"values":[]},"mark":"point","view":{"stroke":null}},
{"width":115,"height":99,"data":{"name":"d"},"transform":[{"filter":"datum.p==5"}],
"encoding":{"x":{"field":"x","type":"quantitative","scale":{"type":"log","domain":[0.631,15849],"nice":false},"title":null},"color":{"field":"s","type":"nominal","scale":{"domain":["Reset","Set"],"range":["#e41a1c","#377eb8"]},"legend":null}},
"layer":[
{"mark":{"type":"area","fillOpacity":0.3},"encoding":{"y":{"field":"d","type":"quantitative","scale":{"type":"log","domain":[1780,1.2e7],"nice":false},"title":null},"y2":{"field":"e"}}},
{"mark":{"type":"area","fillOpacity":0.5},"encoding":{"y":{"field":"a","type":"quantitative","scale":{"type":"log","domain":[1780,1.2e7],"nice":false},"title":null},"y2":{"field":"b"}}},
{"transform":[{"fold":["d","e"],"as":["k","v"]}],"mark":{"type":"line","strokeWidth":0.9,"strokeDash":[4,3],"strokeOpacity":0.85},"encoding":{"y":{"field":"v","type":"quantitative","scale":{"type":"log","domain":[1780,1.2e7],"nice":false},"title":null},"detail":{"field":"k"}}},
{"transform":[{"fold":["a","b","m"],"as":["k","v"]}],"mark":{"type":"line","strokeWidth":1},"encoding":{"y":{"field":"v","type":"quantitative","scale":{"type":"log","domain":[1780,1.2e7],"nice":false},"title":null},"detail":{"field":"k"}}}
]},
{"width":6,"height":5,"data":{"values":[]},"mark":"point","view":{"stroke":null}},
{"width":115,"height":99,"data":{"name":"d"},"transform":[{"filter":"datum.p==6"}],
"encoding":{"x":{"field":"x","type":"quantitative","scale":{"type":"log","domain":[0.631,15849],"nice":false},"title":null},"color":{"field":"s","type":"nominal","scale":{"domain":["Reset","Set"],"range":["#e41a1c","#377eb8"]},"legend":null}},
"layer":[
{"mark":{"type":"area","fillOpacity":0.3},"encoding":{"y":{"field":"d","type":"quantitative","scale":{"type":"log","domain":[1780,1.2e7],"nice":false},"title":null},"y2":{"field":"e"}}},
{"mark":{"type":"area","fillOpacity":0.5},"encoding":{"y":{"field":"a","type":"quantitative","scale":{"type":"log","domain":[1780,1.2e7],"nice":false},"title":null},"y2":{"field":"b"}}},
{"transform":[{"fold":["d","e"],"as":["k","v"]}],"mark":{"type":"line","strokeWidth":0.9,"strokeDash":[4,3],"strokeOpacity":0.85},"encoding":{"y":{"field":"v","type":"quantitative","scale":{"type":"log","domain":[1780,1.2e7],"nice":false},"title":null},"detail":{"field":"k"}}},
{"transform":[{"fold":["a","b","m"],"as":["k","v"]}],"mark":{"type":"line","strokeWidth":1},"encoding":{"y":{"field":"v","type":"quantitative","scale":{"type":"log","domain":[1780,1.2e7],"nice":false},"title":null},"detail":{"field":"k"}}}
]},
{"width":19,"height":99,"data":{"values":[{"t":"(X,Y)=4,4"}]},"mark":{"type":"text","angle":90,"font":"Liberation Serif","fontSize":13,"color":"#1a1a1a"},"encoding":{"text":{"field":"t","type":"nominal"}},"view":{"fill":"#d6d6d6","stroke":"#333","strokeWidth":1.2}},

{"width":6,"height":5,"data":{"values":[]},"mark":"point","view":{"stroke":null}},
{"width":6,"height":5,"data":{"values":[]},"mark":"point","view":{"stroke":null}},
{"width":6,"height":5,"data":{"values":[]},"mark":"point","view":{"stroke":null}},
{"width":6,"height":5,"data":{"values":[]},"mark":"point","view":{"stroke":null}},
{"width":6,"height":5,"data":{"values":[]},"mark":"point","view":{"stroke":null}},
{"width":6,"height":5,"data":{"values":[]},"mark":"point","view":{"stroke":null}},

{"width":115,"height":99,"data":{"name":"d"},"transform":[{"filter":"datum.p==7"}],
"encoding":{"x":{"field":"x","type":"quantitative","scale":{"type":"log","domain":[0.631,15849],"nice":false},"title":null,"axis":{"labels":true,"ticks":true}},"color":{"field":"s","type":"nominal","scale":{"domain":["Reset","Set"],"range":["#e41a1c","#377eb8"]},"legend":null}},
"layer":[
{"mark":{"type":"area","fillOpacity":0.3},"encoding":{"y":{"field":"d","type":"quantitative","scale":{"type":"log","domain":[1780,1.2e7],"nice":false},"title":null,"axis":{"labels":true,"ticks":true}},"y2":{"field":"e"}}},
{"mark":{"type":"area","fillOpacity":0.5},"encoding":{"y":{"field":"a","type":"quantitative","scale":{"type":"log","domain":[1780,1.2e7],"nice":false},"title":null,"axis":{"labels":true,"ticks":true}},"y2":{"field":"b"}}},
{"transform":[{"fold":["d","e"],"as":["k","v"]}],"mark":{"type":"line","strokeWidth":0.9,"strokeDash":[4,3],"strokeOpacity":0.85},"encoding":{"y":{"field":"v","type":"quantitative","scale":{"type":"log","domain":[1780,1.2e7],"nice":false},"title":null,"axis":{"labels":true,"ticks":true}},"detail":{"field":"k"}}},
{"transform":[{"fold":["a","b","m"],"as":["k","v"]}],"mark":{"type":"line","strokeWidth":1},"encoding":{"y":{"field":"v","type":"quantitative","scale":{"type":"log","domain":[1780,1.2e7],"nice":false},"title":null,"axis":{"labels":true,"ticks":true}},"detail":{"field":"k"}}}
]},
{"width":6,"height":5,"data":{"values":[]},"mark":"point","view":{"stroke":null}},
{"width":115,"height":99,"data":{"name":"d"},"transform":[{"filter":"datum.p==8"}],
"encoding":{"x":{"field":"x","type":"quantitative","scale":{"type":"log","domain":[0.631,15849],"nice":false},"title":"Cycle","axis":{"labels":true,"ticks":true}},"color":{"field":"s","type":"nominal","scale":{"domain":["Reset","Set"],"range":["#e41a1c","#377eb8"]},"legend":null}},
"layer":[
{"mark":{"type":"area","fillOpacity":0.3},"encoding":{"y":{"field":"d","type":"quantitative","scale":{"type":"log","domain":[1780,1.2e7],"nice":false},"title":null},"y2":{"field":"e"}}},
{"mark":{"type":"area","fillOpacity":0.5},"encoding":{"y":{"field":"a","type":"quantitative","scale":{"type":"log","domain":[1780,1.2e7],"nice":false},"title":null},"y2":{"field":"b"}}},
{"transform":[{"fold":["d","e"],"as":["k","v"]}],"mark":{"type":"line","strokeWidth":0.9,"strokeDash":[4,3],"strokeOpacity":0.85},"encoding":{"y":{"field":"v","type":"quantitative","scale":{"type":"log","domain":[1780,1.2e7],"nice":false},"title":null},"detail":{"field":"k"}}},
{"transform":[{"fold":["a","b","m"],"as":["k","v"]}],"mark":{"type":"line","strokeWidth":1},"encoding":{"y":{"field":"v","type":"quantitative","scale":{"type":"log","domain":[1780,1.2e7],"nice":false},"title":null},"detail":{"field":"k"}}}
]},
{"width":6,"height":5,"data":{"values":[]},"mark":"point","view":{"stroke":null}},
{"width":115,"height":99,"data":{"name":"d"},"transform":[{"filter":"datum.p==9"}],
"encoding":{"x":{"field":"x","type":"quantitative","scale":{"type":"log","domain":[0.631,15849],"nice":false},"title":null,"axis":{"labels":true,"ticks":true}},"color":{"field":"s","type":"nominal","scale":{"domain":["Reset","Set"],"range":["#e41a1c","#377eb8"]},"legend":null}},
"layer":[
{"mark":{"type":"area","fillOpacity":0.3},"encoding":{"y":{"field":"d","type":"quantitative","scale":{"type":"log","domain":[1780,1.2e7],"nice":false},"title":null},"y2":{"field":"e"}}},
{"mark":{"type":"area","fillOpacity":0.5},"encoding":{"y":{"field":"a","type":"quantitative","scale":{"type":"log","domain":[1780,1.2e7],"nice":false},"title":null},"y2":{"field":"b"}}},
{"transform":[{"fold":["d","e"],"as":["k","v"]}],"mark":{"type":"line","strokeWidth":0.9,"strokeDash":[4,3],"strokeOpacity":0.85},"encoding":{"y":{"field":"v","type":"quantitative","scale":{"type":"log","domain":[1780,1.2e7],"nice":false},"title":null},"detail":{"field":"k"}}},
{"transform":[{"fold":["a","b","m"],"as":["k","v"]}],"mark":{"type":"line","strokeWidth":1},"encoding":{"y":{"field":"v","type":"quantitative","scale":{"type":"log","domain":[1780,1.2e7],"nice":false},"title":null},"detail":{"field":"k"}}}
]},
{"width":19,"height":99,"data":{"values":[{"t":"(X,Y)=5,7"}]},"mark":{"type":"text","angle":90,"font":"Liberation Serif","fontSize":13,"color":"#1a1a1a"},"encoding":{"text":{"field":"t","type":"nominal"}},"view":{"fill":"#d6d6d6","stroke":"#333","strokeWidth":1.2}}
],
"config": {
"view": {"stroke": "#7f7f7f", "strokeWidth": 1},
"axis": {
"tickCount": 20, "labels": false, "ticks": false, "domain": false, "grid": true,
"gridColor": {"condition": {"test": "abs(log(datum.value)/LN10-round(log(datum.value)/LN10))<1e-6", "value": "#d9d9d9"}, "value": "#ededed"},
"gridWidth": 0.8,
"labelFont": "Liberation Serif", "labelFontSize": 13, "labelColor": "#222", "labelOverlap": false, "labelFlush": false, "labelPadding": 2,
"labelExpr": "abs(log(datum.value)/LN10-round(log(datum.value)/LN10))<1e-6 ? '10' + ['⁰','¹','²','³','⁴','⁵','⁶','⁷'][round(log(datum.value)/LN10)] : ''",
"tickSize": 3, "tickColor": "#333",
"tickOpacity": {"condition": {"test": "abs(log(datum.value)/LN10-round(log(datum.value)/LN10))<1e-6", "value": 1}, "value": 0},
"titleFont": "Liberation Serif", "titleFontSize": 17, "titleFontWeight": "normal", "titleColor": "#111"
},
"axisY": {"titlePadding": 6},
"axisX": {"titlePadding": 10, "titleBaseline": "alphabetic", "titleFontSize": 16},
"legend": {"symbolType": "square", "symbolSize": 169, "symbolStrokeWidth": 0, "rowPadding": 0, "labelFont": "Liberation Serif", "labelFontSize": 14, "labelColor": "#222", "labelOffset": 7}
}
}
